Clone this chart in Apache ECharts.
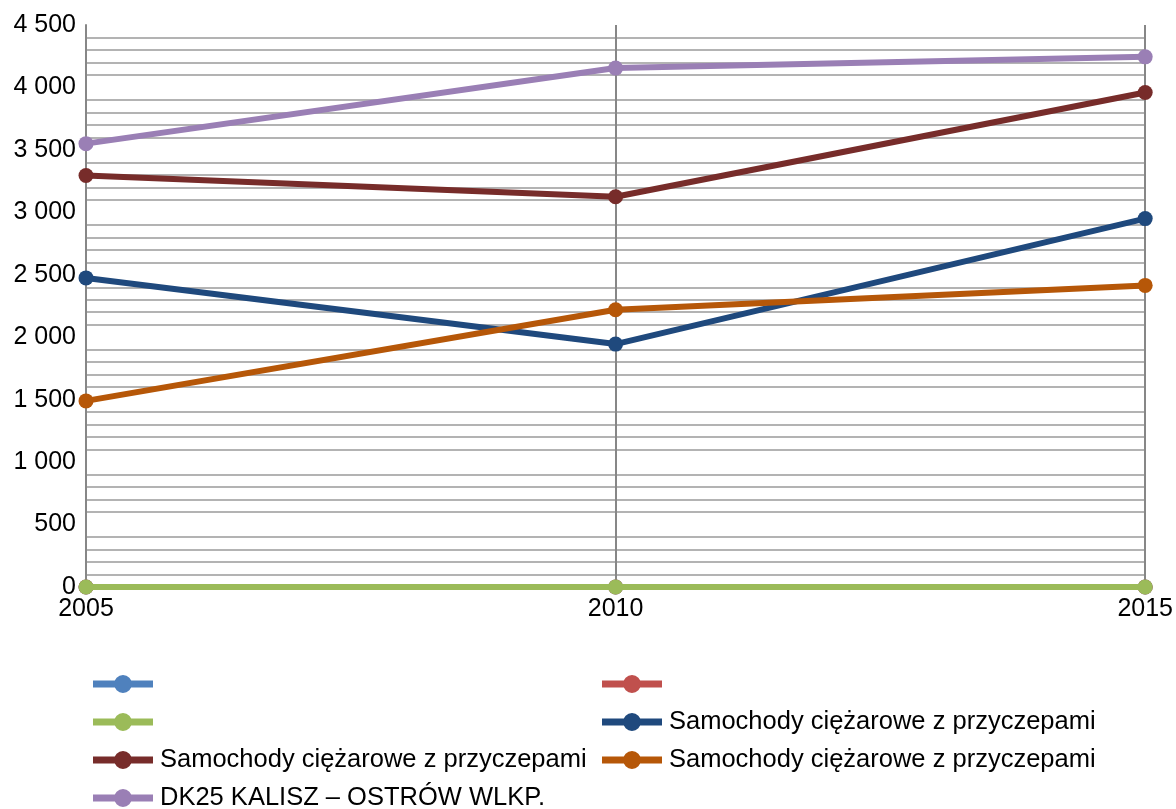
<!DOCTYPE html>
<html>
<head>
<meta charset="utf-8">
<script src="https://cdn.jsdelivr.net/npm/echarts@6/dist/echarts.min.js"></script>
<style>html,body{margin:0;padding:0;background:#fff}#c{width:1176px;height:809px}</style>
</head>
<body>
<div id="c"></div>
<script>
const years = ['2005', '2010', '2015'];
const yTicks = [0, 500, 1000, 1500, 2000, 2500, 3000, 3500, 4000, 4500];
const s1 = [0, 0, 0];
const s2 = [0, 0, 0];
const s3 = [0, 0, 0];
const s4 = [2475, 1945, 2950];
const s5 = [3295, 3125, 3960];
const s6 = [1490, 2220, 2415];
const s7 = [3550, 4155, 4245];
const seriesNames = ['', '', '', 'Samochody ciężarowe z przyczepami', 'Samochody ciężarowe z przyczepami', 'Samochody ciężarowe z przyczepami', 'DK25 KALISZ – OSTRÓW WLKP.'];
const seriesData = [s1, s2, s3, s4, s5, s6, s7];
const colors = ['#4F81BD', '#C0504D', '#9BBB59', '#1F497D', '#772C2A', '#B65708', '#9A7FB5'];

const FONT = 'Liberation Sans';
const ids = seriesData.map((d, i) => 'S' + (i + 1));
const labelOf = {};
ids.forEach((id, i) => labelOf[id] = seriesNames[i] || ' ');

// legend layout: 2 columns, 4 rows
const colLeft = [93, 602];
const rowTop = [671, 709, 747, 785];
const legends = ids.map((id, i) => ({
  left: colLeft[i % 2],
  top: rowTop[Math.floor(i / 2)],
  padding: 0,
  data: [id],
  icon: 'path://M0,5.5h60v7h-60z M39,9a9,9 0 1,1 -18,0a9,9 0 1,1 18,0z',
  itemWidth: 60,
  itemHeight: 18,
  textStyle: { fontFamily: FONT, fontSize: 25.5, lineHeight: 18, color: '#000', padding: [0, 0, 0, 2] },
  formatter: n => labelOf[n],
  selectedMode: false
}));

const chart = echarts.init(document.getElementById('c'), null, { renderer: 'canvas' });
chart.setOption({
  animation: false,
  color: colors,
  grid: { left: 86, right: 30, top: 25, bottom: 222, containLabel: false },
  legend: legends,
  xAxis: {
    type: 'category',
    data: years,
    boundaryGap: false,
    axisLine: { show: true, lineStyle: { color: '#878787', width: 2 } },
    axisTick: { show: false },
    axisLabel: { fontFamily: FONT, fontSize: 25, color: '#000', margin: 10 },
    splitLine: { show: true, lineStyle: { color: '#878787', width: 2 } }
  },
  yAxis: {
    type: 'value',
    min: yTicks[0],
    max: yTicks[yTicks.length - 1],
    interval: 500,
    axisLine: { show: true, lineStyle: { color: '#878787', width: 2 } },
    axisTick: { show: false },
    axisLabel: {
      fontFamily: FONT, fontSize: 25, color: '#000', margin: 10, padding: [6, 0, 0, 0],
      formatter: v => String(v).replace(/\B(?=(\d{3})+(?!\d))/g, ' ')
    },
    splitLine: { show: false },
    minorTick: { show: false, splitNumber: 5 },
    minorSplitLine: { show: true, lineStyle: { color: '#b3b3b3', width: 2 } }
  },
  series: seriesData.map((d, i) => ({
    name: ids[i],
    type: 'line',
    data: d,
    symbol: 'circle',
    symbolSize: 15,
    lineStyle: { width: 6, color: colors[i] },
    itemStyle: { color: colors[i] },
    z: 2 + i
  }))
});
</script>
</body>
</html>
